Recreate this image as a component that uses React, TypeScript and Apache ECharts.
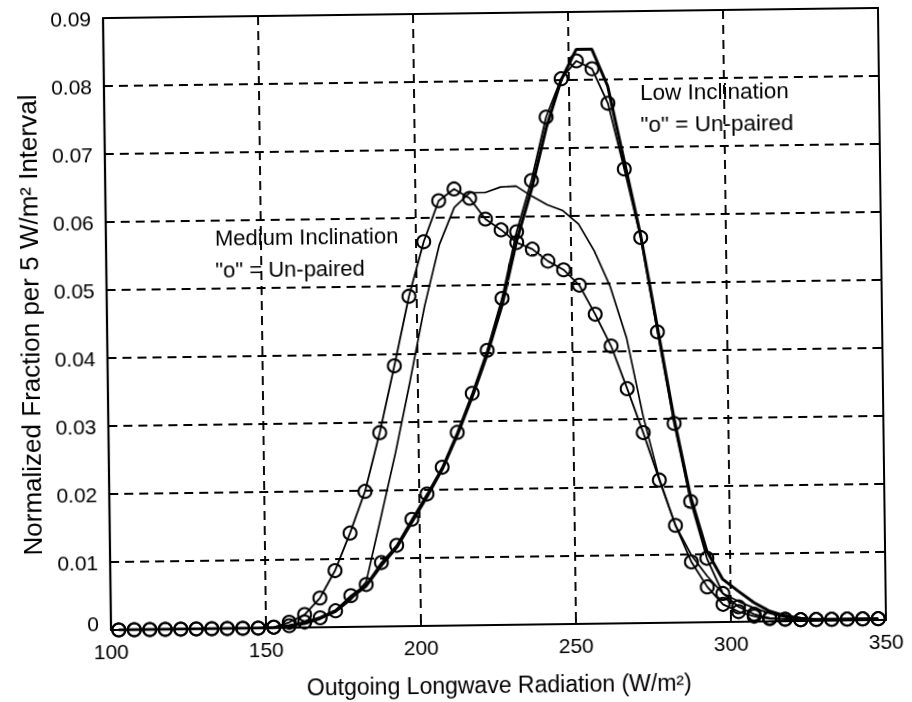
import React, { useEffect, useRef } from "react";
import * as echarts from "echarts";

// Bin centres (W/m^2), 5 W/m^2 bins
const binCenters = [
  102.5, 107.5, 112.5, 117.5, 122.5, 127.5, 132.5, 137.5, 142.5, 147.5,
  152.5, 157.5, 162.5, 167.5, 172.5, 177.5, 182.5, 187.5, 192.5, 197.5,
  202.5, 207.5, 212.5, 217.5, 222.5, 227.5, 232.5, 237.5, 242.5, 247.5,
  252.5, 257.5, 262.5, 267.5, 272.5, 277.5, 282.5, 287.5, 292.5, 297.5,
  302.5, 307.5, 312.5, 317.5, 322.5, 327.5, 332.5, 337.5, 342.5, 347.5,
];

// Medium inclination, un-paired (circles)
const mediumUnpaired = [
  0, 0, 0, 0, 0, 0, 0, 0, 0, 0,
  0.0001, 0.0008, 0.0019, 0.0043, 0.0083, 0.0138, 0.0199, 0.0285, 0.0383, 0.0485,
  0.0565, 0.0625, 0.0642, 0.0628, 0.0597, 0.0581, 0.0562, 0.0552, 0.0534, 0.0521,
  0.0498, 0.0455, 0.0408, 0.0345, 0.028, 0.021, 0.0143, 0.0089, 0.0052, 0.0026,
  0.0015, 0.0008, 0.0004, 0.0003, 0.0002, 0.0002, 0.0002, 0.0002, 0.0002, 0.0002,
];

// Medium inclination, paired (thin solid)
const mediumPaired = [
  0, 0, 0, 0, 0, 0, 0, 0, 0, 0,
  0, 0.0002, 0.0005, 0.0012, 0.0022, 0.004, 0.0066, 0.016, 0.0255, 0.036,
  0.047, 0.056, 0.0615, 0.0636, 0.0636, 0.0644, 0.0645, 0.063, 0.0617, 0.0608,
  0.0588, 0.0548, 0.0495, 0.042, 0.0305, 0.0212, 0.0143, 0.0099, 0.0068, 0.0042,
  0.003, 0.002, 0.0012, 0.0006, 0.0003, 0.0001, 0.0001, 0.0001, 0.0001, 0.0001,
];

// Low inclination, un-paired (circles)
const lowUnpaired = [
  0, 0, 0, 0, 0, 0, 0, 0, 0, 0,
  0.0001, 0.0003, 0.0008, 0.0014, 0.0024, 0.0046, 0.0062, 0.0094, 0.0119, 0.0157,
  0.0194, 0.0233, 0.0284, 0.0341, 0.0404, 0.048, 0.0578, 0.0653, 0.0746, 0.0802,
  0.0828, 0.0816, 0.0765, 0.0668, 0.0567, 0.0428, 0.0293, 0.0178, 0.0094, 0.0042,
  0.0022, 0.0011, 0.0005, 0.0003, 0.0002, 0.0002, 0.0002, 0.0002, 0.0002, 0.0002,
];

// Low inclination, paired (thick solid)
const lowPaired = [
  0, 0, 0, 0, 0, 0, 0, 0, 0, 0,
  0, 0.0003, 0.0007, 0.0014, 0.0024, 0.0043, 0.006, 0.009, 0.0116, 0.0153,
  0.019, 0.023, 0.028, 0.0336, 0.0398, 0.047, 0.0565, 0.064, 0.073, 0.08,
  0.0845, 0.0845, 0.079, 0.068, 0.057, 0.0435, 0.03, 0.0185, 0.0105, 0.0063,
  0.0045, 0.0028, 0.0015, 0.0008, 0.0004, 0.0002, 0.0002, 0.0002, 0.0002, 0.0002,
];

const xTicks = [100, 150, 200, 250, 300, 350];
const yTicks = [0, 0.01, 0.02, 0.03, 0.04, 0.05, 0.06, 0.07, 0.08, 0.09];

const FONT = '"Liberation Sans", Arial, Helvetica, sans-serif';

function pairs(ys: number[]) {
  return binCenters.map((x, i) => [x, ys[i]]);
}

export default function App() {
  const ref = useRef<HTMLDivElement>(null);

  useEffect(() => {
    if (!ref.current) return;
    const chart = echarts.init(ref.current, undefined, { renderer: "svg" });

    const circleSeries = (name: string, ys: number[]) => ({
      name,
      type: "line",
      data: pairs(ys),
      symbol: "circle",
      symbolSize: 13,
      showSymbol: true,
      showAllSymbol: true,
      itemStyle: { color: "rgba(0,0,0,0)", borderColor: "#000", borderWidth: 2 },
      lineStyle: { color: "#000", width: 1.8 },
      z: 3,
    });

    const lineSeries = (name: string, ys: number[], width: number) => ({
      name,
      type: "line",
      data: pairs(ys),
      symbol: "none",
      lineStyle: { color: "#000", width },
      itemStyle: { color: "#000" },
      z: 2,
    });

    const dash = { color: "#000", width: 1.9, type: [9, 6] as number[] };

    chart.setOption({
      animation: false,
      backgroundColor: "#fff",
      grid: {
        left: 107,
        right: 30,
        top: 13,
        bottom: 77,
        show: true,
        borderColor: "#000",
        borderWidth: 2,
        backgroundColor: "rgba(0,0,0,0)",
        outerBoundsMode: "none",
      },
      xAxis: {
        type: "value",
        min: xTicks[0],
        max: xTicks[xTicks.length - 1],
        interval: 50,
        name: "Outgoing Longwave Radiation (W/m²)",
        nameLocation: "middle",
        nameGap: 48,
        nameTextStyle: { fontFamily: FONT, fontSize: 23, color: "#000" },
        axisLine: { show: true, lineStyle: { color: "#000", width: 2.2 } },
        axisTick: { show: true, inside: true, length: 6, lineStyle: { color: "#000", width: 1.8 } },
        axisLabel: {
          fontFamily: FONT,
          fontSize: 21,
          color: "#000",
          margin: 11,
          formatter: (v: number) => String(Math.round(v)),
        },
        splitLine: { show: true, lineStyle: dash },
      },
      yAxis: {
        type: "value",
        min: yTicks[0],
        max: yTicks[yTicks.length - 1],
        interval: 0.01,
        name: "Normalized Fraction per 5 W/m² Interval",
        nameLocation: "middle",
        nameRotate: 90,
        nameGap: 60,
        nameTextStyle: { fontFamily: FONT, fontSize: 26, color: "#000" },
        axisLine: { show: true, lineStyle: { color: "#000", width: 2.2 } },
        axisTick: { show: true, inside: true, length: 6, lineStyle: { color: "#000", width: 1.8 } },
        axisLabel: {
          fontFamily: FONT,
          fontSize: 21,
          color: "#000",
          margin: 12,
          formatter: (v: number) => (Math.abs(v) < 1e-9 ? "{zero|0}" : v.toFixed(2)),
          rich: {
            zero: { fontFamily: FONT, fontSize: 21, color: "#000", padding: [0, 0, 14, 0] },
          },
        },
        splitLine: { show: true, lineStyle: dash },
      },
      graphic: [
        {
          type: "text",
          x: 216,
          y: 234,
          style: {
            text: "Medium Inclination",
            font: `22px ${FONT}`,
            fill: "#000",
            textAlign: "left",
            textVerticalAlign: "middle",
          },
          z: 10,
        },
        {
          type: "text",
          x: 216,
          y: 266,
          style: {
            text: '"o" = Un-paired',
            font: `22px ${FONT}`,
            fill: "#000",
            textAlign: "left",
            textVerticalAlign: "middle",
          },
          z: 10,
        },
        {
          type: "text",
          x: 643,
          y: 94,
          style: {
            text: "Low Inclination",
            font: `22.5px ${FONT}`,
            fill: "#000",
            textAlign: "left",
            textVerticalAlign: "middle",
          },
          z: 10,
        },
        {
          type: "text",
          x: 643,
          y: 126,
          style: {
            text: '"o" = Un-paired',
            font: `22.5px ${FONT}`,
            fill: "#000",
            textAlign: "left",
            textVerticalAlign: "middle",
          },
          z: 10,
        },
      ],
      series: [
        lineSeries("Medium Inclination (paired)", mediumPaired, 1.7),
        lineSeries("Low Inclination (paired)", lowPaired, 3),
        circleSeries("Medium Inclination (un-paired)", mediumUnpaired),
        circleSeries("Low Inclination (un-paired)", lowUnpaired),
      ],
    });

    return () => {
      chart.dispose();
    };
  }, []);

  return (
    <div
      style={{
        position: "fixed",
        left: 0,
        top: 0,
        width: 912,
        height: 702,
        background: "#fff",
        transform: "rotate(-0.75deg)",
        transformOrigin: "494px 319px",
      }}
    >
      <div ref={ref} style={{ width: 912, height: 702 }} />
    </div>
  );
}
